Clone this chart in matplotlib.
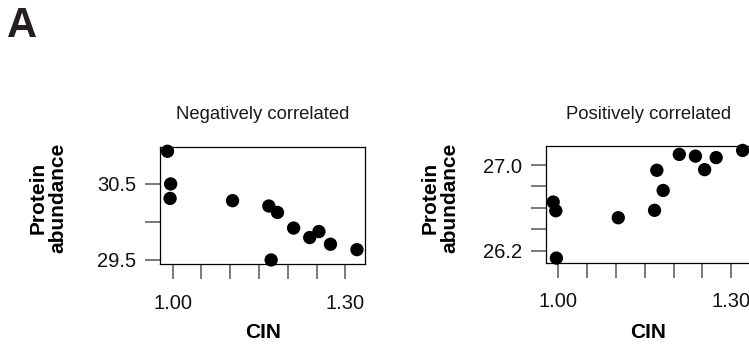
import matplotlib
matplotlib.use("Agg")
import matplotlib.pyplot as plt

plt.rcParams['font.family'] = ['Liberation Sans', 'DejaVu Sans']

# CIN values (shared by both panels)
cin = [0.991, 0.9955, 0.9965, 1.104, 1.167, 1.171, 1.182, 1.210, 1.238, 1.254, 1.274, 1.320]
# protein abundance
neg_vals = [30.93, 30.31, 30.50, 30.28, 30.21, 29.50, 30.125, 29.92, 29.795, 29.874, 29.707, 29.636]
pos_vals = [26.655, 26.574, 26.133, 26.509, 26.578, 26.951, 26.763, 27.099, 27.083, 26.957, 27.069, 27.136]

titles = ["Negatively correlated", "Positively correlated"]

x_ticks = [1.00, 1.05, 1.10, 1.15, 1.20, 1.25, 1.30]
x_ticklabels = ["1.00", "", "", "", "", "", "1.30"]
neg_yticks = [29.5, 30.0, 30.5]
neg_yticklabels = ["29.5", "", "30.5"]
pos_yticks = [26.2, 26.4, 26.6, 26.8, 27.0]
pos_yticklabels = ["26.2", "", "", "", "27.0"]

W, H = 749, 349
fig = plt.figure(figsize=(W / 100, H / 100), dpi=100)

def px_axes(l, t, r, b):
    return fig.add_axes([l / W, 1 - b / H, (r - l) / W, (b - t) / H])

ax1 = px_axes(160.3, 146.7, 365.0, 264.3)
ax2 = px_axes(546.0, 145.7, 750.7, 262.7)

# axes, values, y ticks, y tick labels, y range, ylabel x/y, xlabel y, title y
panels = [
    (ax1, neg_vals, neg_yticks, neg_yticklabels, (29.443, 30.99), -0.549, 0.564, -0.58, 1.235),
    (ax2, pos_vals, pos_yticks, pos_yticklabels, (26.09, 27.18), -0.518, 0.553, -0.597, 1.228),
]

for i, (ax, vals, yt, ytl, ylim, lx, ly, cy, ty) in enumerate(panels):
    ax.scatter(cin, vals, s=92, color="black", edgecolors="none", clip_on=False, zorder=3)
    ax.set_xlim(0.9785, 1.334)
    ax.set_ylim(*ylim)
    ax.set_xticks(x_ticks)
    ax.set_xticklabels(x_ticklabels)
    ax.set_yticks(yt)
    ax.set_yticklabels(ytl)
    ax.tick_params(axis="both", length=10.6, width=1.1, color="#555555",
                   labelsize=14.5, labelcolor="#111111")
    ax.tick_params(axis="x", pad=10.5)
    ax.tick_params(axis="y", pad=6.5)
    for sp in ax.spines.values():
        sp.set_linewidth(0.9)
        sp.set_color("black")

    ax.set_xlabel("CIN", fontsize=15, fontweight="bold")
    ax.xaxis.label.set_va("center")
    ax.xaxis.set_label_coords(0.5, cy)

    ax.set_ylabel("Protein\nabundance", fontsize=15, fontweight="bold", linespacing=1.05)
    ax.yaxis.label.set_va("center")
    ax.yaxis.set_label_coords(lx, ly)

    ax.text(0.5, ty, titles[i], transform=ax.transAxes,
            ha="center", va="baseline", fontsize=13.3, color="#1a1a1a")

fig.text(7 / W, 1 - 37 / H, "A", ha="left", va="baseline", fontsize=30,
         fontweight="bold", color="#231f20")

fig.savefig("out.png", dpi=100)
